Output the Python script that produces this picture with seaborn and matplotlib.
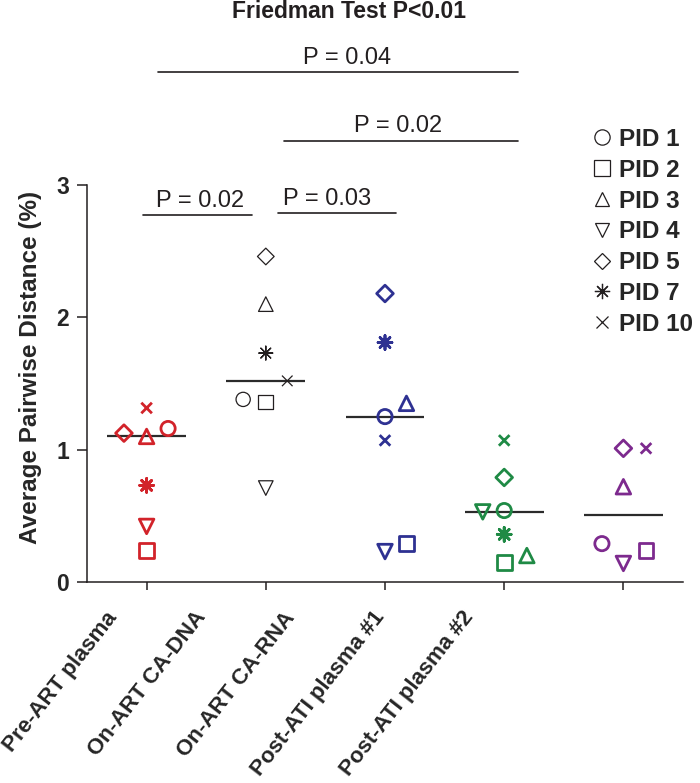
"""
Average pairwise distance per sampling compartment
- one marker per participant (PID), colour per compartment
- median line per compartment, pairwise P values above
"""

import numpy as np
import pandas as pd
import matplotlib
matplotlib.use('Agg')
import matplotlib.pyplot as plt
import matplotlib.transforms as mtransforms
from matplotlib.lines import Line2D
import seaborn as sns

# 데이터
groups = ['Pre-ART plasma', 'On-ART CA-DNA', 'On-ART CA-RNA',
          'Post-ATI plasma #1', 'Post-ATI plasma #2']
group_colors = ['#d2232a', '#231f20', '#2e3192', '#1f8a45', '#7d2a8e']

pid_labels = ['PID 1', 'PID 2', 'PID 3', 'PID 4', 'PID 5', 'PID 7', 'PID 10']
pid1 = [1.16, 1.38, 1.25, 0.54, 0.29]
pid2 = [0.24, 1.36, 0.29, 0.15, 0.24]
pid3 = [1.10, 2.10, 1.35, 0.20, 0.72]
pid4 = [0.42, 0.71, 0.23, 0.53, 0.14]
pid5 = [1.125, 2.46, 2.18, 0.79, 1.01]
pid7 = [0.73, 1.73, 1.81, 0.36, np.nan]
pid10 = [1.315, 1.52, 1.07, 1.07, 1.01]

# 겹치는 점의 좌우 이동 (카테고리 단위)
shift1 = [0.18, -0.19, 0, 0, -0.18]
shift2 = [0, 0, 0.18, 0, 0.19]
shift3 = [0, 0, 0.18, 0.19, 0]
shift4 = [0, 0, 0, -0.18, 0]
shift5 = [-0.19, 0, 0, 0, 0]
shift7 = [0, 0, 0, 0, 0]
shift10 = [0, 0.18, 0, 0, 0.19]

pvalue_labels = ['P = 0.04', 'P = 0.02', 'P = 0.02', 'P = 0.03']

# 마커 설정
markers = ['o', 's', '^', 'v', 'D', (8, 2, 0), 'x']
marker_sizes = [105, 115, 110, 110, 72, 100, 58]
legend_sizes = [11, 11, 10.5, 10.5, 8, 11, 8]

all_values = [pid1, pid2, pid3, pid4, pid5, pid7, pid10]
all_shifts = [shift1, shift2, shift3, shift4, shift5, shift7, shift10]

rows = []
for pid, vals, shifts in zip(pid_labels, all_values, all_shifts):
    for i, (g, v, sh) in enumerate(zip(groups, vals, shifts)):
        rows.append({'pid': pid, 'group': g, 'value': v, 'xpos': i + sh})
df = pd.DataFrame(rows).dropna()

palette = dict(zip(groups, group_colors))

sns.set_style('ticks')
plt.rcParams['font.family'] = ['Liberation Sans', 'DejaVu Sans']

fig = plt.figure(figsize=(7, 7.83), dpi=100)
ax = fig.add_axes([0.1243, 0.2567, 0.8514, 0.507])

# 중앙값 선
sns.boxplot(data=df, x='group', y='value', order=groups, ax=ax,
            showbox=False, showcaps=False, showfliers=False,
            whiskerprops={'visible': False},
            medianprops={'color': '#2b2b2b', 'linewidth': 1.6},
            width=0.66, zorder=2)

# 개별 점
for pid, m, s in zip(pid_labels, markers, marker_sizes):
    sub = df[df['pid'] == pid]
    sns.scatterplot(data=sub, x='xpos', y='value', hue='group', palette=palette,
                    marker=m, s=s, legend=False, ax=ax, zorder=3)
    coll = ax.collections[-1]
    cols = [palette[g] for g in sub['group']]
    lws = [0.9 if g == 'On-ART CA-DNA' else 2.0 for g in sub['group']]
    coll.set_facecolors('none')
    coll.set_edgecolors(cols)
    coll.set_linewidths(lws)

ax.set_xlim(-0.5, 4.5)
ax.set_ylim(0, 3)
ax.set_xticks(range(len(groups)))
ax.set_xticklabels(groups, fontsize=16, fontweight='bold')
ax.set_yticks([0, 1, 2, 3])
ax.set_yticklabels(['0', '1', '2', '3'], fontsize=16.5, fontweight='bold')
ax.set_xlabel('')
ax.set_ylabel('Average Pairwise Distance (%)', fontsize=17.5, fontweight='bold')
ax.yaxis.set_label_coords(-0.0755, 0.5416)

for side in ['top', 'right']:
    ax.spines[side].set_visible(False)
for side in ['left', 'bottom']:
    ax.spines[side].set_linewidth(1.1)
    ax.spines[side].set_color('#231f20')
ax.tick_params(axis='x', length=6, width=1.1, pad=4, color='#231f20')
ax.tick_params(axis='y', length=7, width=1.1, pad=6, color='#231f20')

# x 라벨 회전 및 위치
for i, lab in enumerate(ax.get_xticklabels()):
    lab.set_rotation(52)
    lab.set_ha('right')
    lab.set_va('center')
    lab.set_rotation_mode('anchor')
    dx = (-33 - 30.2 * i) / 100
    off = mtransforms.ScaledTranslation(dx, -0.18, fig.dpi_scale_trans)
    lab.set_transform(lab.get_transform() + off)

# 유의성 표시
bars = [(0.092, 3.12, 3.855), (1.15, 3.12, 3.333), (-0.034, 0.881, 2.774), (1.099, 2.089, 2.789)]
texts = [(1.678, 3.915), (2.106, 3.401), (0.445, 2.834), (1.518, 2.85)]
for (x0, x1, y), (tx, ty), lab in zip(bars, texts, pvalue_labels):
    ax.plot([x0, x1], [y, y], color='#231f20', lw=1.2, clip_on=False)
    ax.text(tx, ty, lab, ha='center', va='baseline', fontsize=17, color='#231f20')

ax.text(1.695, 4.263, 'Friedman Test P<0.01', ha='center', va='baseline',
        fontsize=16.5, fontweight='bold', color='#231f20')

# 범례
handles = [Line2D([], [], marker=m, linestyle='none', markerfacecolor='none',
                  markeredgecolor='#231f20', markersize=ms, markeredgewidth=0.9)
           for m, ms in zip(markers, legend_sizes)]
leg = fig.legend(handles, pid_labels, loc='upper left',
                 bbox_to_anchor=(592 / 700, 1 - 128 / 783),
                 frameon=False, borderpad=0, borderaxespad=0,
                 handlelength=0.8, handletextpad=0.3, labelspacing=0.32,
                 prop={'size': 17.5, 'weight': 'bold'})

plt.savefig('out.png', dpi=100)
plt.close()
